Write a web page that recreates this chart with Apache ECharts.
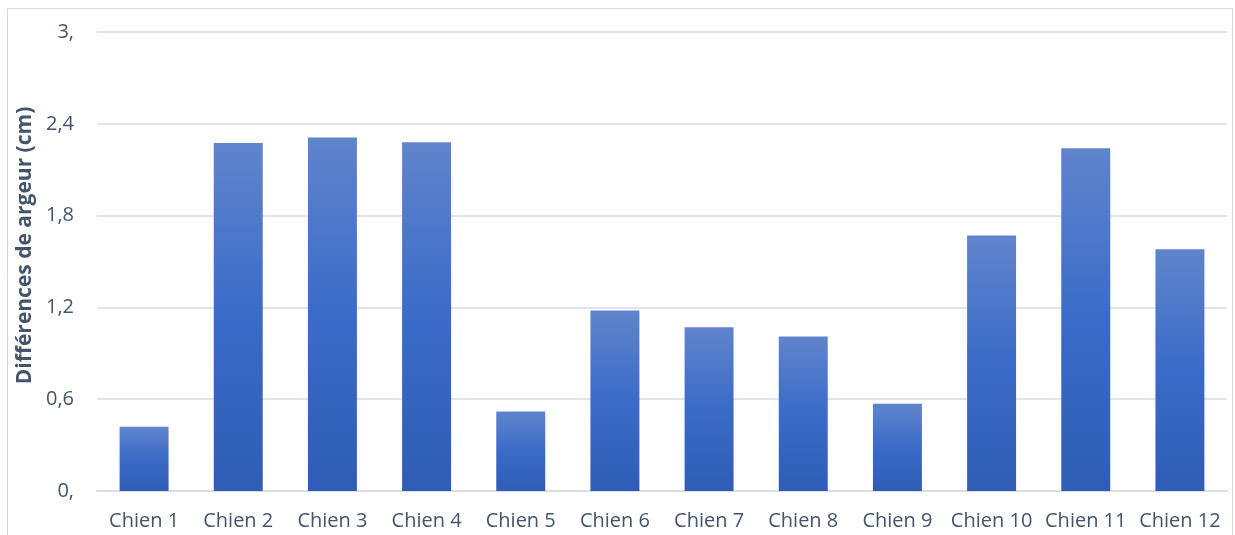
<!DOCTYPE html>
<html><head><meta charset="utf-8">
<script src="https://cdn.jsdelivr.net/npm/echarts@6/dist/echarts.min.js"></script>
<style>html,body{margin:0;padding:0;background:#fff;}#c{width:1235px;height:535px;}</style>
</head><body><div id="c"></div>
<script>
const categories = ['Chien 1','Chien 2','Chien 3','Chien 4','Chien 5','Chien 6','Chien 7','Chien 8','Chien 9','Chien 10','Chien 11','Chien 12'];
const values = [0.42, 2.275, 2.31, 2.28, 0.52, 1.18, 1.07, 1.01, 0.57, 1.67, 2.24, 1.58];
const yTickLabels = ['0,', '0,6', '1,2', '1,8', '2,4', '3,'];
const yTitle = 'Différences de argeur (cm)';

const chart = echarts.init(document.getElementById('c'));
const font = '"Open Sans", sans-serif';
chart.setOption({
  animation: false,
  graphic: [{type:'rect', shape:{x:7.5,y:8.5,width:1225,height:540}, style:{fill:'none', stroke:'#d9d9d9', lineWidth:1}, silent:true}],
  grid: {left: 97, right: 8, top: 32, bottom: 44},
  xAxis: {
    type: 'category', data: categories,
    axisLine: {show: true, lineStyle: {color: '#d9dde6', width: 2}},
    axisTick: {show: false},
    axisLabel: {color: '#44546a', fontSize: 20, fontFamily: font, margin: 20, interval: 0}
  },
  yAxis: {
    type: 'value', min: 0, max: 3, interval: 0.6,
    name: yTitle, nameLocation: 'middle', nameGap: 58, nameRotate: 90,
    nameTextStyle: {color: '#44546a', fontSize: 21, fontWeight: 'bold', fontFamily: font, padding: [0, 0, 0, 32]},
    axisLine: {show: false}, axisTick: {show: false},
    splitLine: {lineStyle: {color: '#dfe3ea', width: 2}},
    axisLabel: {color: '#44546a', fontSize: 20, fontFamily: font, margin: 23,
      formatter: v => yTickLabels[Math.round(v / 0.6)]}
  },
  series: [{
    type: 'bar', data: values, barWidth: '52%',
    itemStyle: {color: new echarts.graphic.LinearGradient(0,0,0,1,[
      {offset:0,color:'#6084cc'},{offset:0.5,color:'#3a6bc8'},{offset:1,color:'#2f5db5'}])}
  }]
});
</script></body></html>
